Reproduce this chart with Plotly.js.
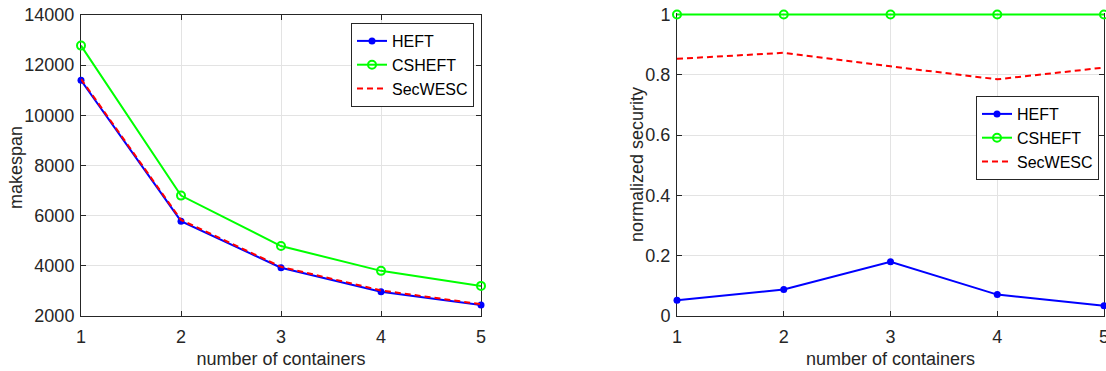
<!DOCTYPE html>
<html>
<head>
<meta charset="utf-8">
<script src="https://cdn.plot.ly/plotly-3.0.1.min.js"></script>
<style>html,body{margin:0;padding:0;background:#fff;}#chart{width:1106px;height:371px;}</style>
</head>
<body>
<div id="chart"></div>
<script>
const containers = [1, 2, 3, 4, 5];
const makespanHEFT = [11400, 5780, 3925, 2970, 2440];
const makespanCSHEFT = [12780, 6800, 4790, 3800, 3200];
const makespanSecWESC = [11450, 5830, 3960, 3020, 2470];
const securityHEFT = [0.052, 0.088, 0.18, 0.071, 0.034];
const securityCSHEFT = [1, 1, 1, 1, 1];
const securitySecWESC = [0.853, 0.873, 0.828, 0.785, 0.824];
const seriesNames = ["HEFT", "CSHEFT", "SecWESC"];

const blue = "#0000ff", green = "#00ff00", red = "#ff0000";
const ink = "#262626";
const font = "Liberation Sans, Arial, sans-serif";

function heft(x, y, xa, ya, lg) {
  return {x: x, y: y, xaxis: xa, yaxis: ya, legend: lg, name: seriesNames[0], type: "scatter", mode: "lines+markers",
    line: {color: blue, width: 2}, marker: {color: blue, size: 7, symbol: "circle"}, cliponaxis: false};
}
function csheft(x, y, xa, ya, lg) {
  return {x: x, y: y, xaxis: xa, yaxis: ya, legend: lg, name: seriesNames[1], type: "scatter", mode: "lines+markers",
    line: {color: green, width: 2}, marker: {color: green, size: 8, symbol: "circle-open", line: {color: green, width: 2}}, cliponaxis: false};
}
function secwesc(x, y, xa, ya, lg) {
  return {x: x, y: y, xaxis: xa, yaxis: ya, legend: lg, name: seriesNames[2], type: "scatter", mode: "lines",
    line: {color: red, width: 2, dash: "6px,4px"}, cliponaxis: false};
}

const data = [
  heft(containers, makespanHEFT, "x", "y", "legend"),
  csheft(containers, makespanCSHEFT, "x", "y", "legend"),
  secwesc(containers, makespanSecWESC, "x", "y", "legend"),
  heft(containers, securityHEFT, "x2", "y2", "legend2"),
  csheft(containers, securityCSHEFT, "x2", "y2", "legend2"),
  secwesc(containers, securitySecWESC, "x2", "y2", "legend2")
];

const axisCommon = {
  showline: true, linecolor: ink, linewidth: 1, mirror: "ticks",
  ticks: "inside", ticklen: 5, tickcolor: ink, tickwidth: 1,
  showgrid: true, gridcolor: "#e3e3e3", gridwidth: 1, zeroline: false,
  layer: "below traces", ticklabeloverflow: "allow",
  tickfont: {family: font, size: 18, color: ink}
};
const domTop = 1 - 15/371, domBottom = 1 - 316/371;

const layout = {
  width: 1106, height: 371,
  margin: {l: 0, r: 0, t: 0, b: 0},
  paper_bgcolor: "#fff", plot_bgcolor: "#fff",
  showlegend: true,
  font: {family: font, color: ink},
  xaxis: Object.assign({}, axisCommon, {domain: [81/1106, 481/1106], range: [1, 5], tickvals: containers, anchor: "y",
    ticklabelstandoff: 4,
    title: {text: "number of containers", font: {family: font, size: 18, color: ink}, standoff: 6}}),
  yaxis: Object.assign({}, axisCommon, {domain: [domBottom, domTop], range: [2000, 14000], dtick: 2000, tickformat: "d", anchor: "x",
    ticklabelstandoff: 2}),
  xaxis2: Object.assign({}, axisCommon, {domain: [677/1106, 1104/1106], range: [1, 5], tickvals: containers, anchor: "y2",
    mirror: false, ticklabelstandoff: 4,
    title: {text: "number of containers", font: {family: font, size: 18, color: ink}, standoff: 6}}),
  yaxis2: Object.assign({}, axisCommon, {domain: [domBottom, 1 - 13/371], range: [0, 1.005], tickvals: [0, 0.2, 0.4, 0.6, 0.8, 1], anchor: "x2",
    ticklabelstandoff: 2}),
  legend: {x: 474/1106, y: 1 - 23/371, xanchor: "right", yanchor: "top", bgcolor: "#fff",
    bordercolor: ink, borderwidth: 1, font: {family: font, size: 16, color: "#000"}, itemwidth: 30, tracegroupgap: 0},
  legend2: {x: 1099/1106, y: 1 - 96/371, xanchor: "right", yanchor: "top", bgcolor: "#fff",
    bordercolor: ink, borderwidth: 1, font: {family: font, size: 16, color: "#000"}, itemwidth: 30, tracegroupgap: 0},
  annotations: [
    {text: "makespan", xref: "paper", yref: "paper", x: 16/1106, y: 1 - 168/371, xanchor: "center", yanchor: "middle",
      textangle: -90, showarrow: false, font: {family: font, size: 18, color: ink}},
    {text: "normalized security", xref: "paper", yref: "paper", x: 637/1106, y: 1 - 165/371, xanchor: "center", yanchor: "middle",
      textangle: -90, showarrow: false, font: {family: font, size: 18, color: ink}}
  ]
};

Plotly.newPlot("chart", data, layout, {displayModeBar: false, staticPlot: true});
</script>
</body>
</html>
